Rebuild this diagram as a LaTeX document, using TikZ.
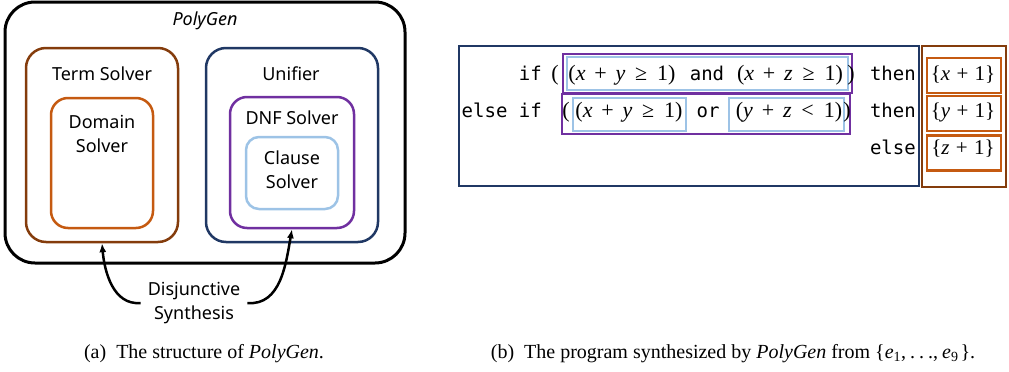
\documentclass[tikz,border=0pt]{standalone}
\usepackage{fontspec}
\setmainfont{Liberation Serif}
\setsansfont{Noto Sans}
\setmonofont{DejaVu Sans Mono}
\usetikzlibrary{arrows.meta}

\definecolor{termbrown}{HTML}{843C0C}
\definecolor{domorange}{HTML}{C55A11}
\definecolor{unifnavy}{HTML}{203864}
\definecolor{dnfpurple}{HTML}{7030A0}
\definecolor{clauseblue}{HTML}{9DC3E6}

% spaced operators for the guard expressions
\newcommand{\tplus}{\hspace{0.4em}+\hspace{0.4em}}
\newcommand{\tgeq}{\hspace{0.45em}≥\hspace{0.45em}}
\newcommand{\tless}{\hspace{0.45em}<\hspace{0.45em}}
\newcommand{\tdots}{.\hspace{0.2em}.\hspace{0.2em}.}

\tikzset{
  solver/.style={draw=#1, line width=2.5pt, inner sep=0pt},
  title/.style={font=\sffamily\fontsize{18}{24}\selectfont, align=center, inner sep=0pt},
  kw/.style={font=\ttfamily\fontsize{19}{23}\selectfont, inner sep=0pt, anchor=base east},
  expr/.style={font=\fontsize{22}{26}\selectfont, inner sep=0pt, anchor=base},
  cell/.style={draw=#1, line width=2pt, inner sep=0pt},
  caption/.style={font=\fontsize{20}{24}\selectfont, inner sep=0pt, anchor=base},
  synth/.style={-{Latex[length=9pt, width=7pt]}, line width=2.5pt},
}

\begin{document}
\begin{tikzpicture}[x=1pt, y=-1pt]
    \useasboundingbox (0,0) rectangle (1009,372);
    % (a) Structure
    \node[solver=black, line width=3pt, rounded corners=30pt, minimum width=400pt, minimum height=261pt] (polygen) at (205,132.5) {};
    \node[title, font=\sffamily\itshape\fontsize{18}{24}\selectfont] (polygenlabel) at (205,21) {PolyGen};
    \node[solver=termbrown, rounded corners=20pt, minimum width=152pt, minimum height=194pt] (term) at (102,145) {};
    \node[title] (termlabel) at (102,74) {Term Solver};
    \node[solver=domorange, rounded corners=17pt, minimum width=102pt, minimum height=130pt] (domain) at (102,163) {};
    \node[title] (domainlabel) at (102,134) {Domain\\Solver};
    \node[solver=unifnavy, rounded corners=20pt, minimum width=172pt, minimum height=194pt] (unifier) at (292,145) {};
    \node[title] (unifierlabel) at (291,74) {Unifier};
    \node[solver=dnfpurple, rounded corners=17pt, minimum width=124pt, minimum height=131pt] (dnf) at (292,162.5) {};
    \node[title] (dnflabel) at (292,118) {DNF Solver};
    \node[solver=clauseblue, rounded corners=13pt, minimum width=92pt, minimum height=72pt] (clause) at (292,173) {};
    \node[title] (clauselabel) at (292,170) {Clause\\Solver};
    % Disjunctive synthesis
    \node[title, inner sep=7pt] (ds) at (194,303) {Disjunctive\\Synthesis};
    \draw[synth] (ds.west) to[out=185, in=-85] (term.south);
    \draw[synth] (ds.east) to[out=-5, in=-100] (dnf.south);
    \node[caption] (capa) at (204,358) {(a)\hspace{0.5em}The structure of \textit{PolyGen}.};

    % (b) Program
    \node[cell=unifnavy, minimum width=460pt, minimum height=140pt] (guards) at (689,116) {};
    \node[cell=termbrown, line width=2.5pt, minimum width=84pt, minimum height=141pt] (terms) at (964,116.5) {};
    % Conditions
    \node[cell=dnfpurple, minimum width=289pt, minimum height=39pt] (dnfa) at (707.5,73.5) {};
    \node[cell=dnfpurple, minimum width=288pt, minimum height=40pt] (dnfb) at (706,114) {};
    \node[cell=clauseblue, minimum width=281pt, minimum height=33pt] (cla) at (707.5,73.5) {};
    \node[cell=clauseblue, minimum width=113pt, minimum height=33pt] (clb) at (629.5,114.5) {};
    \node[cell=clauseblue, minimum width=115pt, minimum height=33pt] (clc) at (786.5,114.5) {};
    % Terms
    \foreach \y [count=\i] in {75.5,113.5,153}
        \node[cell=domorange, line width=2.5pt, minimum width=74pt, minimum height=35pt] (tm\i) at (964,\y) {};
    % Keywords
    \node[kw] (ifa) at (542,80) {if};
    \node[kw] (ifb) at (542,117) {else if};
    \node[kw] (thena) at (916,80) {then};
    \node[kw] (thenb) at (916,117) {then};
    \node[kw] (elsec) at (916,154) {else};
    % Expressions
    \node[expr] (pla) at (555,80) {(};
    \node[expr] (ea) at (622,80) {(\textit{x}\tplus\textit{y}\tgeq1)};
    \node[expr, font=\ttfamily\fontsize{19}{23}\selectfont] (anda) at (707,80) {and};
    \node[expr] (eb) at (790,80) {(\textit{x}\tplus\textit{z}\tgeq1)};
    \node[expr] (pra) at (851,80) {)};
    \node[expr] (plb) at (566,117) {(};
    \node[expr] (ec) at (629,117) {(\textit{x}\tplus\textit{y}\tgeq1)};
    \node[expr, font=\ttfamily\fontsize{19}{23}\selectfont] (orb) at (708,117) {or};
    \node[expr] (ed) at (789,117) {(\textit{y}\tplus\textit{z}\tless1)};
    \node[expr] (prb) at (847,117) {)};
    \node[expr, font=\fontsize{21}{25}\selectfont] (ta) at (963,80) {\{\textit{x}\hspace{0.3em}+\hspace{0.3em}1\}};
    \node[expr, font=\fontsize{21}{25}\selectfont] (tb) at (963,117) {\{\textit{y}\hspace{0.3em}+\hspace{0.3em}1\}};
    \node[expr, font=\fontsize{21}{25}\selectfont] (tc) at (963,154) {\{\textit{z}\hspace{0.3em}+\hspace{0.3em}1\}};
    \node[caption] (capb) at (733,358) {(b)\hspace{0.5em}The program synthesized by \textit{PolyGen} from \{\textit{e}\textsubscript{1},\hspace{0.2em}\tdots,\hspace{0.2em}\textit{e}\textsubscript{9}\hspace{0.1em}\}.};
\end{tikzpicture}
\end{document}
